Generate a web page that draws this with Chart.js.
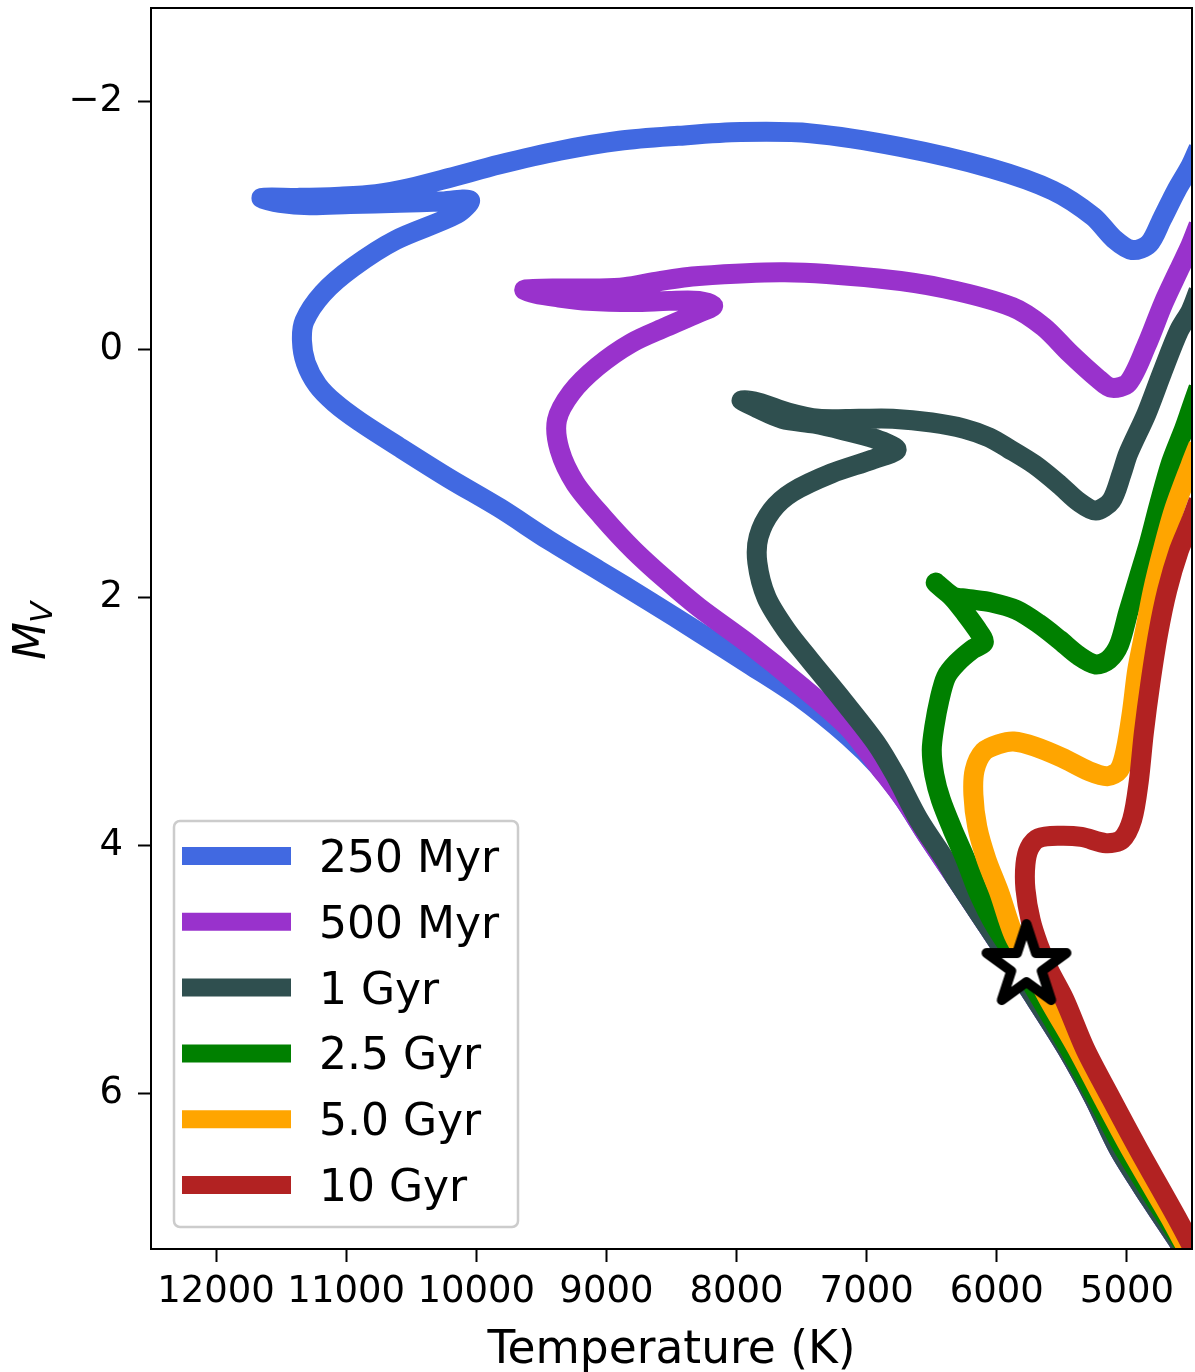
<!DOCTYPE html>
<html>
<head>
<meta charset="utf-8">
<script src="https://cdn.jsdelivr.net/npm/chart.js@4.4.1/dist/chart.umd.min.js"></script>
<style>
  html, body { margin: 0; padding: 0; background: #fff; }
  #chart { display: block; }
</style>
</head>
<body>
<canvas id="chart" width="1195" height="1372" style="width:1195px;height:1372px"></canvas>
<script>
// isochrone ages and colours
const ageLabels = ['250 Myr', '500 Myr', '1 Gyr', '2.5 Gyr', '5.0 Gyr', '10 Gyr'];
const ageColors = ['#4169e1', '#9932cc', '#2f4f4f', '#008000', '#ffa500', '#b22222'];

// axis ticks
const tempTicks = [12000, 11000, 10000, 9000, 8000, 7000, 6000, 5000];
const magTicks = [-2, 0, 2, 4, 6];

// effective temperature (K) / absolute V magnitude along each isochrone
const temp250 = [4480, 4580, 4820, 5060, 5250, 5460, 5700, 5850, 6070, 6310, 6540, 6710, 6900, 7140, 7520, 7900, 8290, 8670, 9060, 9440, 9820, 10210, 10590, 10900, 11090, 11220, 11310, 11340, 11320, 11180, 10950, 10620, 10150, 10050, 10280, 10590, 10970, 11280, 11510, 11650, 11360, 11050, 10770, 10510, 10210, 9820, 9360, 8900, 8450, 7970, 7430, 6740, 6050, 5570, 5260, 5100, 4960, 4830, 4730, 4620, 4510, 4450];
const mv250 = [7.40, 7.23, 6.85, 6.45, 6.04, 5.64, 5.24, 5.00, 4.65, 4.27, 3.91, 3.63, 3.37, 3.12, 2.80, 2.54, 2.28, 2.03, 1.78, 1.54, 1.28, 1.04, 0.79, 0.58, 0.43, 0.29, 0.11, -0.07, -0.23, -0.45, -0.66, -0.88, -1.09, -1.20, -1.19, -1.18, -1.17, -1.16, -1.18, -1.22, -1.22, -1.23, -1.25, -1.30, -1.38, -1.49, -1.60, -1.68, -1.72, -1.75, -1.74, -1.63, -1.46, -1.28, -1.07, -0.89, -0.80, -0.85, -1.05, -1.28, -1.48, -1.62];

const temp500 = [4480, 4580, 4820, 5060, 5250, 5460, 5700, 5850, 6070, 6310, 6540, 6710, 6900, 7140, 7520, 7900, 8290, 8540, 8790, 9030, 9240, 9360, 9380, 9270, 9070, 8810, 8540, 8300, 8180, 8290, 8520, 8790, 9140, 9380, 9550, 9630, 9360, 9060, 8860, 8590, 8290, 7630, 6910, 6400, 5880, 5640, 5440, 5230, 5120, 4990, 4850, 4720, 4600, 4510, 4450];
const mv500 = [7.40, 7.23, 6.85, 6.45, 6.04, 5.64, 5.24, 5.00, 4.65, 4.27, 3.91, 3.63, 3.37, 3.05, 2.70, 2.38, 2.08, 1.86, 1.62, 1.35, 1.08, 0.81, 0.57, 0.35, 0.14, -0.05, -0.18, -0.29, -0.35, -0.39, -0.39, -0.38, -0.39, -0.42, -0.45, -0.48, -0.49, -0.49, -0.50, -0.55, -0.59, -0.62, -0.57, -0.49, -0.34, -0.18, 0.03, 0.23, 0.31, 0.27, -0.03, -0.37, -0.64, -0.84, -1.00];

const temp1g = [4480, 4580, 4820, 5060, 5250, 5460, 5700, 5850, 6070, 6310, 6400, 6600, 6780, 6930, 7190, 7440, 7620, 7770, 7840, 7830, 7730, 7570, 7270, 6960, 6770, 6940, 7190, 7400, 7650, 7850, 7960, 7830, 7600, 7370, 7060, 6800, 6500, 6250, 6060, 5910, 5710, 5520, 5370, 5240, 5120, 5040, 4990, 4850, 4730, 4600, 4510, 4450];
const mv1g = [7.40, 7.23, 6.85, 6.45, 6.04, 5.64, 5.24, 5.00, 4.65, 4.27, 4.11, 3.79, 3.43, 3.17, 2.82, 2.50, 2.26, 2.00, 1.72, 1.51, 1.30, 1.15, 1.00, 0.89, 0.81, 0.72, 0.65, 0.60, 0.56, 0.47, 0.41, 0.43, 0.51, 0.56, 0.56, 0.56, 0.59, 0.64, 0.71, 0.80, 0.93, 1.09, 1.23, 1.30, 1.22, 1.00, 0.84, 0.52, 0.19, -0.15, -0.31, -0.47];

const temp2g5 = [4450, 4550, 5020, 5230, 5440, 5660, 5830, 6010, 6140, 6240, 6340, 6430, 6480, 6500, 6480, 6440, 6390, 6310, 6190, 6100, 6150, 6240, 6340, 6470, 6340, 6240, 6040, 5850, 5680, 5520, 5370, 5240, 5140, 5060, 4990, 4910, 4830, 4750, 4660, 4560, 4510, 4450];
const mv2g5 = [7.40, 7.24, 6.45, 6.04, 5.64, 5.24, 4.94, 4.65, 4.38, 4.11, 3.87, 3.63, 3.43, 3.23, 3.04, 2.82, 2.64, 2.53, 2.42, 2.36, 2.26, 2.13, 2.00, 1.88, 1.99, 2.01, 2.04, 2.10, 2.21, 2.34, 2.47, 2.54, 2.50, 2.38, 2.12, 1.84, 1.56, 1.24, 0.91, 0.64, 0.49, 0.31];

const temp5g = [4450, 4540, 4650, 4970, 5180, 5380, 5600, 5740, 5870, 5980, 6080, 6150, 6180, 6170, 6100, 5980, 5870, 5710, 5500, 5290, 5150, 5060, 5010, 4960, 4920, 4860, 4800, 4730, 4640, 4510, 4450];
const mv5g = [7.35, 7.24, 7.03, 6.45, 6.04, 5.64, 5.24, 4.96, 4.72, 4.38, 4.11, 3.85, 3.59, 3.39, 3.24, 3.18, 3.16, 3.20, 3.29, 3.40, 3.44, 3.39, 3.23, 2.91, 2.58, 2.26, 1.94, 1.64, 1.30, 0.93, 0.77];

const temp10g = [4410, 4600, 4910, 5120, 5320, 5480, 5600, 5680, 5740, 5780, 5780, 5750, 5680, 5520, 5350, 5160, 5040, 4960, 4910, 4870, 4820, 4760, 4690, 4600, 4510, 4450];
const mv10g = [7.41, 7.03, 6.45, 6.04, 5.64, 5.24, 5.00, 4.80, 4.60, 4.35, 4.15, 4.02, 3.94, 3.92, 3.93, 3.98, 3.95, 3.79, 3.49, 3.09, 2.69, 2.29, 1.94, 1.62, 1.39, 1.22];

// the Sun
const sunTemp = [5772];
const sunMag = [4.97];

const toPoints = (t, m) => t.map((v, i) => ({ x: v, y: m[i] }));
const tracks = [
  toPoints(temp250, mv250),
  toPoints(temp500, mv500),
  toPoints(temp1g, mv1g),
  toPoints(temp2g5, mv2g5),
  toPoints(temp5g, mv5g),
  toPoints(temp10g, mv10g),
];

// five-pointed star marker, white with thick black outline
function starMarker(r, lw) {
  const size = 2 * Math.ceil(r + lw);
  const c = document.createElement('canvas');
  c.width = c.height = size;
  const g = c.getContext('2d');
  g.translate(size / 2, size / 2);
  g.beginPath();
  for (let k = 0; k < 10; k++) {
    const rad = k % 2 ? r * 0.382 : r;
    const a = -Math.PI / 2 + k * Math.PI / 5;
    g.lineTo(rad * Math.cos(a), rad * Math.sin(a));
  }
  g.closePath();
  g.fillStyle = '#fff';
  g.fill();
  g.lineJoin = 'round';
  g.lineWidth = lw;
  g.strokeStyle = '#000';
  g.stroke();
  return c;
}

const FONT = '"DejaVu Sans", sans-serif';

const datasets = tracks.map((pts, i) => ({
  label: ageLabels[i],
  data: pts,
  showLine: true,
  borderColor: ageColors[i],
  backgroundColor: ageColors[i],
  borderWidth: 20,
  borderJoinStyle: 'round',
  pointRadius: 0,
  tension: 0.3,
  capBezierPoints: false,
  clip: 0,
  order: 6 - i,
}));

datasets.push({
  label: 'Sun',
  data: toPoints(sunTemp, sunMag),
  showLine: false,
  pointStyle: starMarker(42, 10),
  pointRadius: 10,
  clip: false,
  order: 0,
});

// frame, axis titles and legend box
const decorations = {
  id: 'decorations',
  afterDraw(chart) {
    const { ctx, chartArea: a } = chart;
    ctx.save();
    ctx.strokeStyle = '#000';
    ctx.lineWidth = 2;
    ctx.strokeRect(a.left, a.top, a.right - a.left, a.bottom - a.top);

    ctx.fillStyle = '#000';
    ctx.font = '45.5px ' + FONT;
    ctx.textAlign = 'center';
    ctx.textBaseline = 'alphabetic';
    ctx.fillText('Temperature (K)', (a.left + a.right) / 2, 1363);

    // M_V rotated
    ctx.save();
    ctx.translate(45, 660);
    ctx.rotate(-Math.PI / 2);
    ctx.textAlign = 'left';
    ctx.font = 'italic 44px ' + FONT;
    ctx.fillText('M', 0, 0);
    const wM = ctx.measureText('M').width;
    ctx.font = 'italic 31px ' + FONT;
    ctx.fillText('V', wM - 1, 7);
    ctx.restore();

    // legend
    const lx = 174, ly = 821, lw = 344, lh = 406, r = 6;
    ctx.beginPath();
    ctx.moveTo(lx + r, ly);
    ctx.arcTo(lx + lw, ly, lx + lw, ly + lh, r);
    ctx.arcTo(lx + lw, ly + lh, lx, ly + lh, r);
    ctx.arcTo(lx, ly + lh, lx, ly, r);
    ctx.arcTo(lx, ly, lx + lw, ly, r);
    ctx.closePath();
    ctx.fillStyle = 'rgba(255,255,255,0.8)';
    ctx.fill();
    ctx.strokeStyle = '#cccccc';
    ctx.lineWidth = 2.5;
    ctx.stroke();

    ctx.textAlign = 'left';
    ctx.font = '44px ' + FONT;
    chart.data.datasets.slice(0, 6).forEach((ds, i) => {
      const y = 856 + i * 65.8;
      ctx.strokeStyle = ds.borderColor;
      ctx.lineWidth = 18;
      ctx.lineCap = 'butt';
      ctx.beginPath();
      ctx.moveTo(182, y);
      ctx.lineTo(291, y);
      ctx.stroke();
      ctx.fillStyle = '#000';
      ctx.fillText(ds.label, 319, y + 16);
    });
    ctx.restore();
  }
};

new Chart(document.getElementById('chart'), {
  type: 'scatter',
  data: { datasets },
  options: {
    responsive: false,
    devicePixelRatio: 1,
    animation: false,
    events: [],
    layout: { autoPadding: false, padding: { top: 8, right: 3, left: 0, bottom: 0 } },
    plugins: { legend: { display: false }, tooltip: { enabled: false } },
    scales: {
      x: {
        type: 'linear',
        position: 'bottom',
        min: 4500,
        max: 12500,
        reverse: true,
        afterFit: s => { s.height = 123; s.paddingLeft = 0; s.paddingRight = 0; },
        afterBuildTicks: s => { s.ticks = tempTicks.map(v => ({ value: v })); },
        border: { display: false },
        grid: { drawOnChartArea: false, drawTicks: true, tickLength: 13, tickWidth: 2, tickColor: '#000' },
        ticks: {
          color: '#000',
          font: { family: FONT, size: 37 },
          padding: 8,
          maxRotation: 0,
          autoSkip: false,
          callback: v => String(v),
        },
      },
      y: {
        type: 'linear',
        position: 'left',
        min: -2.75,
        max: 7.25,
        reverse: true,
        afterFit: s => { s.width = 151; s.paddingTop = 0; s.paddingBottom = 0; },
        afterBuildTicks: s => { s.ticks = magTicks.map(v => ({ value: v })); },
        border: { display: false },
        grid: { drawOnChartArea: false, drawTicks: true, tickLength: 13, tickWidth: 2, tickColor: '#000' },
        ticks: {
          color: '#000',
          font: { family: FONT, size: 37 },
          padding: 15,
          autoSkip: false,
          callback: v => (v < 0 ? '\u2212' + Math.abs(v) : String(v)),
        },
      },
    },
  },
  plugins: [decorations],
});
</script>
</body>
</html>
